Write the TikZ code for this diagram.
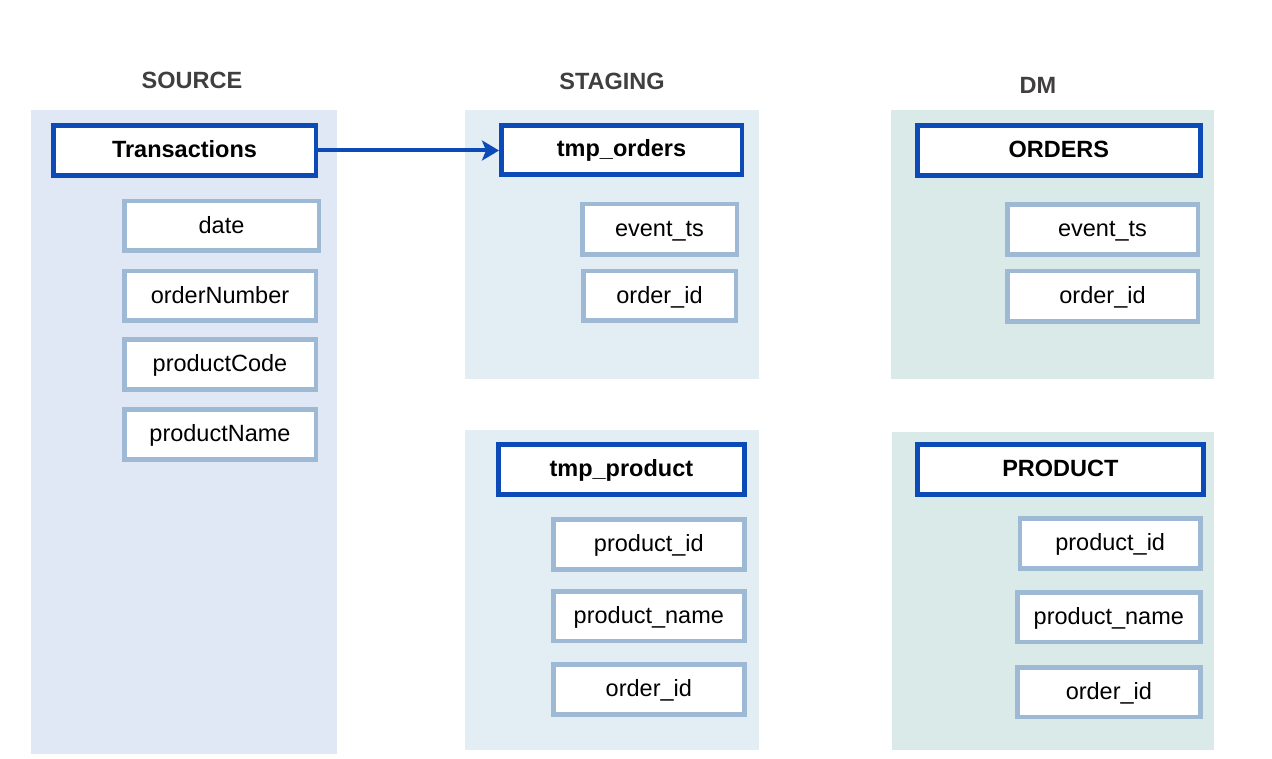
\documentclass[tikz,border=0pt]{standalone}
\usepackage{fontspec}
\setmainfont{Liberation Sans}
\usetikzlibrary{arrows.meta}
\definecolor{darkb}{RGB}{12,74,184}
\definecolor{lightb}{RGB}{157,185,212}
\definecolor{srcbg}{RGB}{224,232,246}
\definecolor{stgbg}{RGB}{226,238,244}
\definecolor{dmbg}{RGB}{218,234,232}
\definecolor{hdr}{RGB}{64,62,62}
\newcommand\mybox[7]{%
  \pgfmathsetmacro\cx{(#3+#4)/2}\pgfmathsetmacro\cy{(#5+#6)/2}%
  \pgfmathsetmacro\ww{#4-#3-4.5}\pgfmathsetmacro\hh{#6-#5-4.5}%
  \node[#2, minimum width=\ww pt, minimum height=\hh pt] (#1) at (\cx,\cy) {#7};}
\newcommand\mypanel[5]{\fill[#1] (#2,#4) rectangle (#3,#5);}
\begin{document}
\begin{tikzpicture}[x=1pt,y=-1pt,
  txt/.style={font=\fontsize{23.5}{28}\selectfont, text height=16.8pt, text depth=0pt, inner sep=0pt},
  tablebox/.style={txt, font=\fontsize{23.5}{28}\selectfont\bfseries, draw=darkb, line width=4.5pt, fill=white, text depth=3.6pt},
  fieldbox/.style={txt, draw=lightb, line width=4.5pt, fill=white, text depth=2.4pt},
  header/.style={txt, font=\fontsize{23.5}{28}\selectfont\bfseries, text=hdr}]
\useasboundingbox (0,0) rectangle (1272,759);
\fill[white] (0,0) rectangle (1272,759);
% panels
\mypanel{srcbg}{31}{337}{110}{754}
\mypanel{stgbg}{465}{759}{110}{379}
\mypanel{stgbg}{465}{759}{429.5}{750}
\mypanel{dmbg}{891}{1214}{110}{379}
\mypanel{dmbg}{892}{1214}{431.5}{750}
% headers
\node[header] (hsrc) at (192,79.7) {SOURCE};
\node[header] (hstg) at (612,81) {STAGING};
\node[header] (hdm) at (1038,85) {DM};
% source
\mybox{trans}{tablebox}{51}{318}{123.3}{177.7}{Transactions}
\mybox{sdate}{fieldbox}{122}{321}{199}{253}{date}
\mybox{sorder}{fieldbox}{122}{318}{269}{323}{orderNumber}
\mybox{scode}{fieldbox}{122}{318}{337.3}{391.7}{productCode}
\mybox{sname}{fieldbox}{122}{318}{407}{461.7}{productName}
% staging orders
\mybox{tmpo}{tablebox}{499}{744}{123.3}{177}{tmp\_orders}
\mybox{tevent}{fieldbox}{580}{739}{202}{257}{event\_ts}
\mybox{torder}{fieldbox}{581}{738}{269}{323}{order\_id}
% staging product
\mybox{tmpp}{tablebox}{496}{746.7}{442.3}{496.7}{tmp\_product}
\mybox{tpid}{fieldbox}{551}{746.7}{517.3}{571.7}{product\_id}
\mybox{tpname}{fieldbox}{551}{746.7}{589.3}{643.3}{product\_name}
\mybox{tpoid}{fieldbox}{551}{746.7}{662.3}{716.7}{order\_id}
% DM orders
\mybox{dmo}{tablebox}{915}{1202.7}{123.3}{177.7}{ORDERS}
\mybox{devent}{fieldbox}{1005}{1200}{202.3}{256.7}{event\_ts}
\mybox{dorder}{fieldbox}{1005}{1200}{269}{324}{order\_id}
% DM product
\mybox{dmp}{tablebox}{915}{1205.7}{442.3}{496.7}{PRODUCT}
\mybox{dpid}{fieldbox}{1017.7}{1202.7}{516}{570.7}{product\_id}
\mybox{dpname}{fieldbox}{1015}{1202.7}{590}{644.3}{product\_name}
\mybox{dpoid}{fieldbox}{1015}{1202.7}{665}{719.3}{order\_id}
% arrow
\draw[darkb, line width=4pt, -{Stealth[length=17pt,width=20pt,inset=4pt]}] (trans.east) -- (trans.east -| tmpo.west);
\end{tikzpicture}
\end{document}
